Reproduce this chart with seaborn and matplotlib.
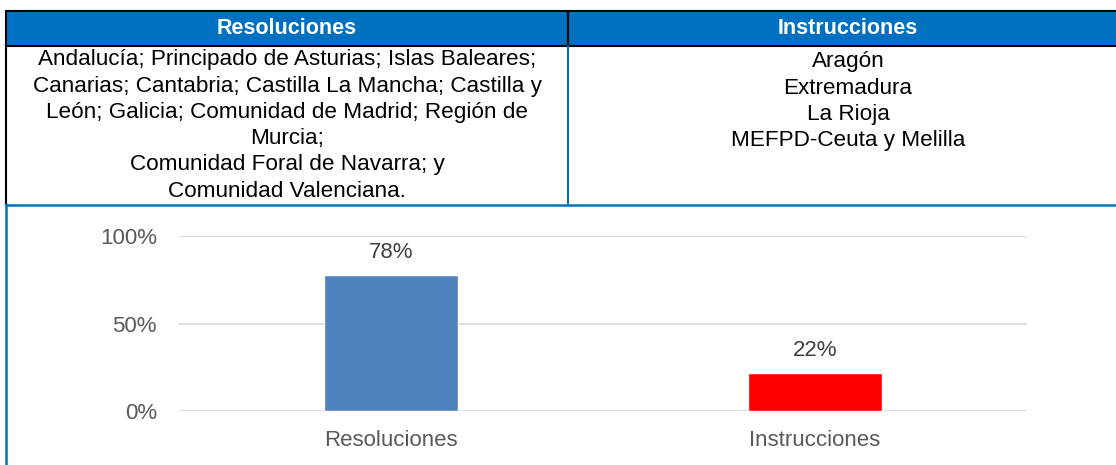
import matplotlib
matplotlib.use('Agg')
import matplotlib.pyplot as plt
import seaborn as sns
from matplotlib.patches import Rectangle

# ── data ───────────────────────────────────────────────────────────
categories = ['Resoluciones', 'Instrucciones']
shares     = [0.78, 0.22]
bar_colors = ['#4F81BD', '#FF0000']
y_ticks    = [0, 0.5, 1.0]
y_labels   = ['0%', '50%', '100%']

header_cols = ['Resoluciones', 'Instrucciones']
left_lines  = ['Andalucía; Principado de Asturias; Islas Baleares;',
               'Canarias; Cantabria; Castilla La Mancha; Castilla y',
               'León; Galicia; Comunidad de Madrid; Región de',
               'Murcia;',
               'Comunidad Foral de Navarra; y',
               'Comunidad Valenciana.']
right_lines = ['Aragón', 'Extremadura', 'La Rioja', 'MEFPD-Ceuta y Melilla']

W, H = 1116, 465
BLUE = '#0070C0'

sns.set_theme(style='white')
plt.rcParams['font.family'] = ['Liberation Sans', 'DejaVu Sans']

fig = plt.figure(figsize=(W / 100, H / 100), dpi=100)

# overlay in pixel coordinates for the table and frame
ov = fig.add_axes([0, 0, 1, 1], zorder=0)
ov.set_xlim(0, W)
ov.set_ylim(H, 0)
ov.axis('off')

ov.add_patch(Rectangle((6, 11), W, 35, facecolor=BLUE, edgecolor='none'))
ov.plot([6, W], [11, 11], color='black', lw=1.5)
ov.plot([6, W], [46, 46], color='black', lw=1.5)
ov.plot([6, 6], [11, 204], color='black', lw=1.5)
ov.plot([568, 568], [11, 46], color='black', lw=1.5)
ov.plot([568, 568], [46, 204], color=BLUE, lw=1.5)
ov.plot([6, W], [204.5, 204.5], color=BLUE, lw=1.8)
ov.plot([6, 6], [204, H], color=BLUE, lw=1.8)

col_centers = [287, 848]
for cx, txt in zip(col_centers, header_cols):
    ov.text(cx, 28, txt, color='white', fontsize=15.5, fontweight='bold',
            ha='center', va='center')

for i, line in enumerate(left_lines):
    ov.text(col_centers[0], 60 + i * 26.2, line, fontsize=16.2,
            ha='center', va='center', color='black')
for i, line in enumerate(right_lines):
    ov.text(col_centers[1], 62 + i * 26, line, fontsize=16.2,
            ha='center', va='center', color='black')

# ── bar chart ──────────────────────────────────────────────────────
ax = fig.add_axes([179 / W, 54 / H, (1027 - 179) / W, 175 / H], zorder=1)
ax.patch.set_alpha(0)
sns.barplot(x=categories, y=shares, hue=categories, palette=bar_colors,
            width=0.315, legend=False, saturation=1, ax=ax)
ax.set_ylim(0, 1)
ax.set_xlim(-0.5, 1.5)
ax.set_yticks(y_ticks)
ax.set_yticklabels(y_labels)
for s in ax.spines.values():
    s.set_visible(False)
ax.yaxis.grid(True, color='#D9D9D9', lw=1.3)
ax.set_axisbelow(True)
ax.tick_params(axis='y', length=0, pad=16, labelsize=16, labelcolor='#595959')
ax.tick_params(axis='x', length=0, pad=14, labelsize=16, labelcolor='#595959')
for cont in ax.containers:
    ax.bar_label(cont, labels=[f'{v:.0%}' for v in cont.datavalues],
                 padding=8, fontsize=16, color='#404040')

fig.savefig('out.png', dpi=100)
